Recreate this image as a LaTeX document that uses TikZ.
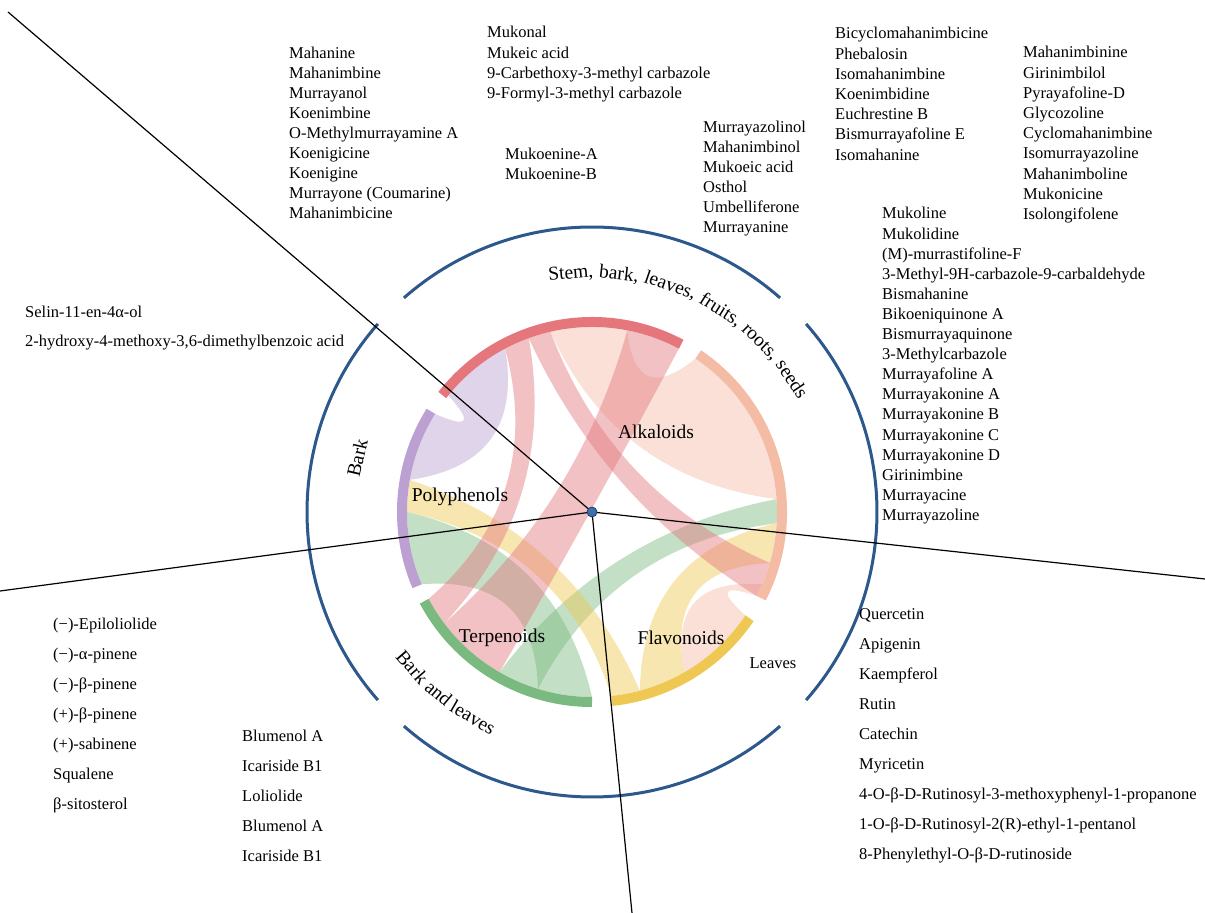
\documentclass[tikz,border=0pt]{standalone}
\usepackage{fontspec}
\setmainfont{Liberation Serif}
\usetikzlibrary{calc}

\definecolor{ringblue}{RGB}{44,88,140}
\definecolor{dotblue}{RGB}{60,112,172}
\definecolor{alkred}{RGB}{228,118,124}
\definecolor{alksalmon}{RGB}{245,188,165}
\definecolor{flavyellow}{RGB}{238,200,82}
\definecolor{terpgreen}{RGB}{122,186,128}
\definecolor{polypurple}{RGB}{188,160,210}

% inner radius of the chord ring
\def\chordR{185}

% ribbon between two arcs of the ring: colour, a1, a2, b1, b2 (counter-clockwise order)
\newcommand\ribbon[5]{%
  \pgfmathsetmacro\rbSepA{#4-#3}%
  \pgfmathsetmacro\rbSepB{#2+360-#5}%
  \pgfmathsetmacro\rbMidA{#3+\rbSepA/2+180*(\rbSepA>180)}%
  \pgfmathsetmacro\rbMidB{#5+\rbSepB/2+180*(\rbSepB>180)}%
  \pgfmathsetmacro\rbRadA{0.75*\chordR*pow(max(1-min(\rbSepA,360-\rbSepA)/180,0.001),1.5)}%
  \pgfmathsetmacro\rbRadB{0.75*\chordR*pow(max(1-min(\rbSepB,360-\rbSepB)/180,0.001),1.5)}%
  \fill[#1, fill opacity=0.45]
    (#2:\chordR pt) arc[start angle=#2, end angle=#3, radius=\chordR pt]
    .. controls ($(#3:\chordR pt)!0.6667!(\rbMidA:\rbRadA pt)$)
           and ($(#4:\chordR pt)!0.6667!(\rbMidA:\rbRadA pt)$) .. (#4:\chordR pt)
    arc[start angle=#4, end angle=#5, radius=\chordR pt]
    .. controls ($(#5:\chordR pt)!0.6667!(\rbMidB:\rbRadB pt)$)
           and ($(#2:\chordR pt)!0.6667!(\rbMidB:\rbRadB pt)$) .. cycle;
}

% column of compound names: name, x, baseline of first row, row step, items
\newcommand\complist[5]{%
  \foreach \t [count=\i] in {#5} {
    \node[lst] (#1-\i) at (#2, #3-\i*#4+#4) {\t};
  }
}

\begin{document}
\begin{tikzpicture}[x=1pt,y=1pt,
  lst/.style={anchor=base west, inner sep=0pt, font=\fontsize{16.5}{20}\selectfont},
  cat/.style={inner sep=0pt, font=\fontsize{19.5}{22}\selectfont},
  arcword/.style={cat, anchor=base},
  ringseg/.style={line width=10pt},
  spoke/.style={line width=1.2pt, black},
  outerring/.style={line width=3pt, ringblue}]
\useasboundingbox (0,0) rectangle (1205,913);
\fill[white] (0,0) rectangle (1205,913);

\coordinate (hub) at (592,401);

\begin{scope}[shift={(592,401)}]
  % ribbons
  \ribbon{alksalmon}{4}{56}{79}{103}
  \ribbon{alksalmon}{300}{326}{333}{337}
  \ribbon{polypurple}{118}{141}{148}{170}
  \ribbon{terpgreen}{180}{203}{253}{270}
  \ribbon{terpgreen}{-3.5}{4}{240}{253}
  \ribbon{flavyellow}{170}{180}{276}{285}
  \ribbon{flavyellow}{285}{300}{344}{356.5}
  \ribbon{alkred}{62}{79}{217}{240}
  \ribbon{alkred}{110}{118}{208}{217}
  \ribbon{alkred}{103}{110}{333}{344}

  % ring segments
  \draw[ringseg, alkred] (62:190pt) arc[start angle=62, end angle=142, radius=190pt];
  \draw[ringseg, alksalmon] (-27:190pt) arc[start angle=-27, end angle=56, radius=190pt];
  \draw[ringseg, flavyellow] (-84:190pt) arc[start angle=-84, end angle=-34, radius=190pt];
  \draw[ringseg, terpgreen] (-152:190pt) arc[start angle=-152, end angle=-90, radius=190pt];
  \draw[ringseg, polypurple] (148:190pt) arc[start angle=148, end angle=203, radius=190pt];

  % outer blue circle, broken at the diagonals
  \draw[outerring] (48.7:285pt) arc[start angle=48.7, end angle=131.3, radius=285pt];
  \draw[outerring] (138.7:285pt) arc[start angle=138.7, end angle=221.3, radius=285pt];
  \draw[outerring] (228.7:285pt) arc[start angle=228.7, end angle=311.3, radius=285pt];
  \draw[outerring] (318.7:285pt) arc[start angle=318.7, end angle=401.3, radius=285pt];

  % plant-part labels, set word by word along the circle
  \foreach \w/\a [count=\k] in {{Stem,}/95.1, {bark,}/83.55, {leaves,}/70.95,
      {fruits,}/57.56, {roots,}/45.35, seeds/33.61}
    \node[arcword, rotate=\a-90] (partA-\k) at (\a:234pt) {\w};
  \foreach \w/\a [count=\k] in {Bark/220.82, and/229.73, leaves/239.91}
    \node[arcword, rotate=\a+90] (partC-\k) at (\a:244pt) {\w};
  \node[cat, rotate=77] (barklbl) at (167:241pt) {Bark};
\end{scope}

\node[lst, anchor=center] (leaveslbl) at (773,250) {Leaves};

% class labels
\node[cat] (alk) at (656,481) {Alkaloids};
\node[cat] (poly) at (460,416) {Polyphenols};
\node[cat] (terp) at (502,275) {Terpenoids};
\node[cat] (flav) at (681,275) {Flavonoids};

% spokes
\coordinate (endNW) at (8,901);
\coordinate (endW) at (0,322);
\coordinate (endS) at (632,0);
\coordinate (endE) at (1205,334);
\draw[spoke] (hub) -- (endNW);
\draw[spoke] (hub) -- (endW);
\draw[spoke] (hub) -- (endS);
\draw[spoke] (hub) -- (endE);
\node[circle, fill=dotblue, draw=ringblue!70!black, line width=0.8pt,
      minimum size=10pt, inner sep=0pt] (hubdot) at (hub) {};

% compound lists
\complist{la}{289}{854}{20}{Mahanine, Mahanimbine, Murrayanol, Koenimbine,
  O-Methylmurrayamine A, Koenigicine, Koenigine, {Murrayone (Coumarine)}, Mahanimbicine}
\complist{lb}{487}{875}{20.2}{Mukonal, Mukeic acid, 9-Carbethoxy-3-methyl carbazole,
  9-Formyl-3-methyl carbazole}
\complist{lc}{505}{753}{20}{Mukoenine-A, Mukoenine-B}
\complist{ld}{703}{780}{20}{Murrayazolinol, Mahanimbinol, Mukoeic acid, Osthol,
  Umbelliferone, Murrayanine}
\complist{le}{835}{874}{20.2}{Bicyclomahanimbicine, Phebalosin, Isomahanimbine,
  Koenimbidine, Euchrestine B, Bismurrayafoline E, Isomahanine}
\complist{lf}{1023}{855}{20.2}{Mahanimbinine, Girinimbilol, Pyrayafoline-D, Glycozoline,
  Cyclomahanimbine, Isomurrayazoline, Mahanimboline, Mukonicine, Isolongifolene}
\complist{lg}{882}{694}{20.1}{Mukoline, Mukolidine, {(M)-murrastifoline-F},
  3-Methyl-9H-carbazole-9-carbaldehyde, Bismahanine, Bikoeniquinone A,
  Bismurrayaquinone, 3-Methylcarbazole, Murrayafoline A, Murrayakonine A,
  Murrayakonine B, Murrayakonine C, Murrayakonine D, Girinimbine, Murrayacine,
  Murrayazoline}
\complist{lh}{25}{595}{29}{Selin-11-en-4α-ol, {2-hydroxy-4-methoxy-3,6-dimethylbenzoic acid}}
\complist{li}{53}{283}{30}{{(−)-Epiloliolide}, {(−)-α-pinene}, {(−)-β-pinene},
  {(+)-β-pinene}, {(+)-sabinene}, Squalene, β-sitosterol}
\complist{lj}{242}{171}{30}{Blumenol A, Icariside B1, Loliolide, Blumenol A, Icariside B1}
\complist{lk}{859}{293}{30}{Quercetin, Apigenin, Kaempferol, Rutin, Catechin, Myricetin,
  4-O-β-D-Rutinosyl-3-methoxyphenyl-1-propanone,
  {1-O-β-D-Rutinosyl-2(R)-ethyl-1-pentanol}, 8-Phenylethyl-O-β-D-rutinoside}
\end{tikzpicture}
\end{document}
